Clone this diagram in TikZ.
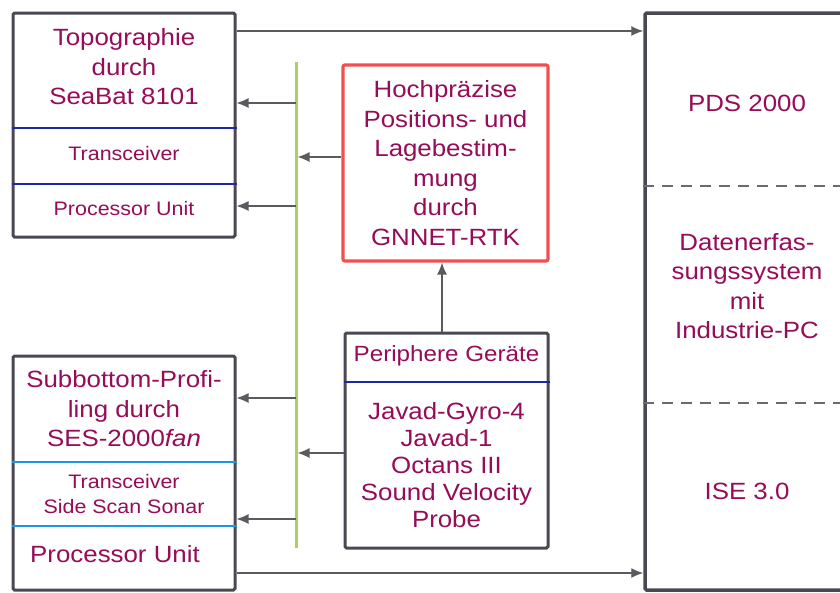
\documentclass[tikz,border=0pt]{standalone}
\usepackage{fontspec}
\setmainfont{Liberation Sans}[FakeStretch=1.1]
\usetikzlibrary{arrows.meta}
\definecolor{txt}{RGB}{150,12,88}
\definecolor{frame}{RGB}{75,72,82}
\definecolor{darkblue}{RGB}{30,40,165}
\definecolor{lightblue}{RGB}{30,150,230}
\definecolor{barg}{RGB}{170,210,95}
\definecolor{redb}{RGB}{240,80,80}
\definecolor{conncol}{RGB}{90,90,95}
\tikzset{
  box/.style={draw=frame, line width=3pt, rectangle, rounded corners=1.5pt, inner sep=0pt, fill=white},
  redbox/.style={draw=redb, line width=3.2pt, rectangle, rounded corners=2pt, inner sep=0pt, fill=white},
  lbl/.style={text=txt, align=center, inner sep=0pt},
  bigt/.style={lbl, font={\fontsize{23.5}{29.5}\selectfont}},
  listt/.style={lbl, font={\fontsize{23.5}{27}\selectfont}},
  smallt/.style={lbl, font={\fontsize{19.5}{25}\selectfont}},
  conn/.style={draw=conncol, line width=1.3pt, -{Latex[length=12pt,width=10pt]}},
  divA/.style={draw=darkblue, line width=2.5pt},
  divB/.style={draw=lightblue, line width=2.5pt},
  dashdiv/.style={draw=conncol!90, line width=2pt, dash pattern=on 11pt off 8pt},
  bus/.style={draw=barg, line width=3pt}
}
\begin{document}
\begin{tikzpicture}[x=1pt,y=-1pt]
\useasboundingbox (0,0) rectangle (840,592);
\clip (0,0) rectangle (840,592);

% boxes
\node[box, minimum width=222pt, minimum height=224pt] (A) at (124,125) {};
\node[box, minimum width=222pt, minimum height=234pt] (B) at (124,473) {};
\node[redbox, minimum width=205pt, minimum height=196pt] (C) at (445.5,163) {};
\node[box, minimum width=203pt, minimum height=215pt] (D) at (446.5,440.5) {};
\node[box, line width=3.5pt, minimum width=230pt, minimum height=577pt] (E) at (760,301.5) {};

% dividers
\draw[divA] (A.west |- 0,128) -- (A.east |- 0,128);
\draw[divA] (A.west |- 0,184) -- (A.east |- 0,184);
\draw[divB] (B.west |- 0,462) -- (B.east |- 0,462);
\draw[divB] (B.west |- 0,526) -- (B.east |- 0,526);
\draw[divA] (D.west |- 0,382) -- (D.east |- 0,382);
\draw[dashdiv] (E.west |- 0,186) -- (E.east |- 0,186);
\draw[dashdiv] (E.west |- 0,403) -- (E.east |- 0,403);

% texts
\node[bigt] (tA) at (124,67) {Topographie\\durch\\SeaBat 8101};
\node[smallt] (tA2) at (124,154) {Transceiver};
\node[smallt] (tA3) at (124,209) {Processor Unit};
\node[bigt] (tB) at (124,409) {Subbottom-Profi-\\ling durch\\SES-2000\textit{fan}};
\node[smallt] (tB2) at (124,494) {Transceiver\\Side Scan Sonar};
\node[bigt] (tB3) at (115,554) {Processor Unit};
\node[bigt] (tC) at (445.5,163) {Hochpräzise\\Positions- und\\Lagebestim-\\mung\\durch\\GNNET-RTK};
\node[smallt, font={\fontsize{22}{25}\selectfont}] (tD) at (446.5,356) {Periphere Geräte};
\node[listt] (tD2) at (446.5,465) {Javad-Gyro-4\\Javad-1\\Octans III\\Sound Velocity\\Probe};
\node[bigt] (tE1) at (747,103) {PDS 2000};
\node[bigt] (tE2) at (747,286) {Datenerfas-\\sungssystem\\mit\\Industrie-PC};
\node[bigt] (tE3) at (747,491) {ISE 3.0};

% bus
\coordinate (busT) at (296,62);
\coordinate (busB) at (296,548);
\draw[bus] (busT) -- (busB);

% connectors
\draw[conn] (A.east |- 0,31) -- (E.west |- 0,31);
\draw[conn] (B.east |- 0,573) -- (E.west |- 0,573);
\draw[conn] (busT |- 0,103) -- (A.east |- 0,103);
\draw[conn] (busT |- 0,206) -- (A.east |- 0,206);
\draw[conn] (busT |- 0,398) -- (B.east |- 0,398);
\draw[conn] (busT |- 0,519) -- (B.east |- 0,519);
\draw[conn] (C.west |- 0,157) -- ([xshift=1.5pt]busT |- 0,157);
\draw[conn] (D.west |- 0,453) -- ([xshift=1.5pt]busT |- 0,453);
\draw[conn] (D.north -| 442,0) -- (C.south -| 442,0);
\end{tikzpicture}
\end{document}
